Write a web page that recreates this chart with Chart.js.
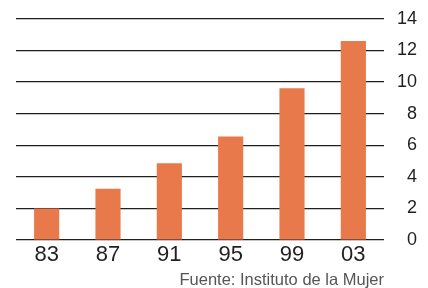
<!DOCTYPE html>
<html>
<head>
<meta charset="utf-8">
<script src="https://cdn.jsdelivr.net/npm/chart.js@4"></script>
<style>
  html, body { margin: 0; padding: 0; background: #fff; }
  #wrap { width: 428px; height: 288px; }
</style>
</head>
<body>
<div id="wrap"><canvas id="chart" width="428" height="288"></canvas></div>
<script>
const years  = ['83', '87', '91', '95', '99', '03'];
const values = [2.0, 3.25, 4.85, 6.55, 9.6, 12.6];
const yTicks = [0, 2, 4, 6, 8, 10, 12, 14];
const source = 'Fuente: Instituto de la Mujer';

const INK    = '#231f20';
const ORANGE = '#e8794a';

Chart.defaults.font.family = "'Liberation Sans', Arial, sans-serif";
Chart.defaults.color = INK;

const ctx = document.getElementById('chart').getContext('2d');
new Chart(ctx, {
  type: 'bar',
  data: {
    labels: years,
    datasets: [{
      data: values,
      backgroundColor: ORANGE,
      borderWidth: 0,
      barPercentage: 0.41,
      categoryPercentage: 1.0,
    }]
  },
  options: {
    responsive: false,
    animation: false,
    layout: { padding: { top: 14, right: 11, left: 16, bottom: 0 } },
    plugins: {
      legend: { display: false },
      tooltip: { enabled: false },
    },
    scales: {
      x: {
        afterFit: scale => { scale.height = 48; },
        grid: { display: false, drawTicks: false },
        border: { display: false },
        ticks: { font: { size: 22 }, color: INK, padding: 2 },
        title: {
          display: true,
          text: source,
          align: 'end',
          color: '#555',
          font: { size: 16.5 },
          padding: { top: 0, bottom: -2 },
        },
      },
      y: {
        position: 'right',
        min: 0,
        max: 14,
        afterBuildTicks: scale => { scale.ticks = yTicks.map(v => ({ value: v })); },
        afterFit: scale => { scale.width = 33; },
        grid: { color: INK, lineWidth: 1.2, drawTicks: false },
        border: { display: false },
        ticks: { font: { size: 18 }, color: INK, crossAlign: 'far', padding: 8 },
      }
    }
  }
});
</script>
</body>
</html>
